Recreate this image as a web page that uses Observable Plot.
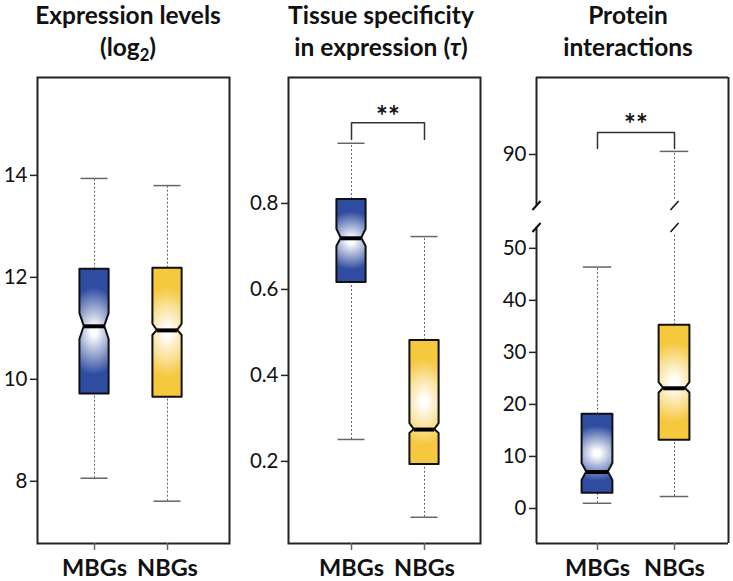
<!DOCTYPE html>
<html><head><meta charset="utf-8">
<script src="https://cdn.jsdelivr.net/npm/d3@7"></script>
<script src="https://cdn.jsdelivr.net/npm/@observablehq/plot@0.6"></script>
<style>
body{margin:0;background:#fff;}
#wrap{position:relative;width:733px;height:581px;overflow:hidden;font-family:Lato,"Open Sans",sans-serif;background:#fff;}
.layer{position:absolute;left:0;top:0;}
.title{position:absolute;top:-1px;width:260px;text-align:center;font-weight:700;font-size:24.5px;line-height:32px;color:#111;}
.title sub{font-size:0.68em;line-height:0;vertical-align:-0.3em;}
</style></head><body>
<div id="wrap">
<svg width="0" height="0" style="position:absolute">
<defs>
<radialGradient id="gBlue" cx="0.5" cy="0.5" r="0.5" gradientTransform="translate(0.5 0.5) scale(2 0.7) translate(-0.5 -0.5)">
<stop offset="0" stop-color="#ffffff"/><stop offset="0.1" stop-color="#ffffff"/><stop offset="1" stop-color="#2f4ca0"/>
</radialGradient>
<radialGradient id="gYellow" cx="0.5" cy="0.5" r="0.5" gradientTransform="translate(0.5 0.5) scale(2 0.7) translate(-0.5 -0.5)">
<stop offset="0" stop-color="#ffffff"/><stop offset="0.1" stop-color="#ffffff"/><stop offset="1" stop-color="#f5c83e"/>
</radialGradient>
</defs>
</svg>
<div class="title" style="left:-2px">Expression levels<br>(log<sub>2</sub>)</div>
<div class="title" style="left:251px">Tissue specificity<br>in expression (<i>τ</i>)</div>
<div class="title" style="left:498px">Protein<br>interactions</div>
</div>
<script>
const categories = ["MBGs", "NBGs"];
const fills = ["url(#gBlue)", "url(#gYellow)"];

// Panel 1: expression levels (log2)
const exprWhiskerLow  = [8.06, 7.61];
const exprQ1          = [9.71, 9.65];
const exprMedian      = [11.04, 10.96];
const exprQ3          = [12.16, 12.18];
const exprWhiskerHigh = [13.94, 13.80];
const exprNotchLow    = [10.78, 10.86];
const exprNotchHigh   = [11.29, 11.08];
const exprTicks       = [8, 10, 12, 14];

// Panel 2: tissue specificity (tau)
const tauWhiskerLow  = [0.251, 0.070];
const tauQ1          = [0.616, 0.193];
const tauMedian      = [0.719, 0.274];
const tauQ3          = [0.809, 0.481];
const tauWhiskerHigh = [0.940, 0.723];
const tauNotchLow    = [0.700, 0.265];
const tauNotchHigh   = [0.740, 0.288];
const tauTicks       = [0.2, 0.4, 0.6, 0.8];
const tauBracket     = [0.949, 0.988];
const tauStars       = 1.001;

// Panel 3: protein interactions (broken axis)
const ppiWhiskerLow  = [1.0, 2.3];
const ppiQ1          = [2.95, 13.1];
const ppiMedian      = [7.0, 23.1];
const ppiQ3          = [18.1, 35.2];
const ppiWhiskerHigh = [46.4, 90.6];
const ppiNotchLow    = [5.4, 22.2];
const ppiNotchHigh   = [8.65, 24.2];
const ppiTicks       = [0, 10, 20, 30, 40, 50, 90];
const ppiBreak       = [54.0, 80.2];
const ppiBracket     = [91.15, 94.23];
const ppiStars       = 95.6;

const BOX_HALF = 0.2, NOTCH_HALF = 0.14, CAP_HALF = 0.185;

const slash = {draw(ctx, size) {const r = Math.sqrt(size / Math.PI); ctx.moveTo(-r * 0.9, r); ctx.lineTo(r * 0.9, -r);}};

function panel(o) {
  const marks = [];
  const n = categories.length;
  const wh = [];
  for (let i = 0; i < n; i++) {
    wh.push({x: i, y1: o.low[i], y2: o.q1[i]});
    if (o.brk && o.high[i] > o.brk[1] && o.q3[i] < o.brk[0]) {
      wh.push({x: i, y1: o.q3[i], y2: o.brk[0] - 1.2});
      wh.push({x: i, y1: o.brk[1] + 1.2, y2: o.high[i]});
    } else {
      wh.push({x: i, y1: o.q3[i], y2: o.high[i]});
    }
  }
  marks.push(Plot.ruleX(wh, {x: "x", y1: "y1", y2: "y2", stroke: "#666", strokeWidth: 1, strokeDasharray: "2,2"}));
  const caps = [];
  for (let i = 0; i < n; i++) {
    caps.push({y: o.low[i], x1: i - CAP_HALF, x2: i + CAP_HALF});
    caps.push({y: o.high[i], x1: i - CAP_HALF, x2: i + CAP_HALF});
  }
  marks.push(Plot.ruleY(caps, {y: "y", x1: "x1", x2: "x2", stroke: "#666", strokeWidth: 1.5}));
  for (let i = 0; i < n; i++) {
    const pts = [
      {y: o.q1[i], h: BOX_HALF},
      {y: o.nl[i], h: BOX_HALF},
      {y: o.med[i], h: NOTCH_HALF},
      {y: o.nh[i], h: BOX_HALF},
      {y: o.q3[i], h: BOX_HALF}
    ];
    marks.push(Plot.areaX(pts, {y: "y", x1: d => i - d.h, x2: d => i + d.h, fill: fills[i], stroke: "#111", strokeWidth: 2, curve: "linear"}));
  }
  marks.push(Plot.ruleY(o.med.map((m, i) => ({y: m, x1: i - NOTCH_HALF, x2: i + NOTCH_HALF})), {y: "y", x1: "x1", x2: "x2", stroke: "#000", strokeWidth: 4}));
  const [x0, x1] = o.xDomain;
  const y0 = o.yDomain[0], y1 = o.yDomain[o.yDomain.length - 1];
  if (o.brk) {
    marks.push(Plot.ruleY([y1, y0], {stroke: "#222", strokeWidth: 2}));
    marks.push(Plot.ruleX([{x: x1, a: y0, b: y1}, {x: x0, a: y0, b: o.brk[0]}, {x: x0, a: o.brk[1], b: y1}], {x: "x", y1: "a", y2: "b", stroke: "#222", strokeWidth: 2}));
    marks.push(Plot.dot([{x: x0, y: o.brk[0]}, {x: x0, y: o.brk[1]}], {x: "x", y: "y", symbol: slash, r: 4.5, stroke: "#111", strokeWidth: 2, fill: "none"}));
    marks.push(Plot.dot([{x: 1, y: o.brk[0]}, {x: 1, y: o.brk[1]}], {x: "x", y: "y", symbol: slash, r: 4.5, stroke: "#111", strokeWidth: 1.5, fill: "none"}));
  } else {
    marks.push(Plot.frame({stroke: "#222", strokeWidth: 2}));
  }
  if (o.bracket) {
    marks.push(Plot.line([{x: 0, y: o.bracket[0]}, {x: 0, y: o.bracket[1]}, {x: 1, y: o.bracket[1]}, {x: 1, y: o.bracket[0]}], {x: "x", y: "y", stroke: "#333", strokeWidth: 1.5}));
    marks.push(Plot.text([{x: 0.5, y: o.stars}], {x: "x", y: "y", text: () => "**", fontSize: 28, fontWeight: "bold", fill: "#111"}));
  }
  marks.push(Plot.axisY({ticks: o.ticks, tickFormat: d => String(d), tickSize: 7, tickPadding: 3, fontSize: 20.5, stroke: "#222", strokeWidth: 1.5, fill: "#111", label: null}));
  marks.push(Plot.axisX({ticks: [0, 1], tickFormat: i => categories[i], tickSize: 7, tickPadding: 9, fontSize: 23.5, fontWeight: "bold", stroke: "#666", strokeWidth: 1.5, fill: "#111", label: null}));
  const svg = Plot.plot({
    width: 733, height: 581,
    marginLeft: o.left, marginRight: 733 - o.right, marginTop: 77, marginBottom: 38,
    x: {type: "linear", domain: o.xDomain, range: [o.left, o.right]},
    y: {type: "linear", domain: o.yDomain, range: o.yRange},
    style: {background: "transparent", fontFamily: "Lato, 'Open Sans', sans-serif", color: "#111", overflow: "visible"},
    marks
  });
  svg.classList.add("layer");
  svg.style.position = "absolute";
  svg.style.left = "0px"; svg.style.top = "0px";
  return svg;
}

const wrap = document.getElementById("wrap");
wrap.appendChild(panel({
  left: 37, right: 229, xDomain: [-0.781, 1.849],
  yDomain: [6.78, 15.92], yRange: [543, 77],
  low: exprWhiskerLow, q1: exprQ1, med: exprMedian, q3: exprQ3, high: exprWhiskerHigh, nl: exprNotchLow, nh: exprNotchHigh,
  ticks: exprTicks
}));
wrap.appendChild(panel({
  left: 288, right: 480, xDomain: [-0.863, 1.767],
  yDomain: [0.009, 1.093], yRange: [543, 77],
  low: tauWhiskerLow, q1: tauQ1, med: tauMedian, q3: tauQ3, high: tauWhiskerHigh, nl: tauNotchLow, nh: tauNotchHigh,
  ticks: tauTicks, bracket: tauBracket, stars: tauStars
}));
wrap.appendChild(panel({
  left: 536, right: 728, xDomain: [-0.792, 1.701],
  yDomain: [-6.73, ppiBreak[0], ppiBreak[1], 104.8], yRange: [543, 227, 205, 77],
  low: ppiWhiskerLow, q1: ppiQ1, med: ppiMedian, q3: ppiQ3, high: ppiWhiskerHigh, nl: ppiNotchLow, nh: ppiNotchHigh,
  ticks: ppiTicks, brk: ppiBreak, bracket: ppiBracket, stars: ppiStars
}));
</script>
</body></html>
